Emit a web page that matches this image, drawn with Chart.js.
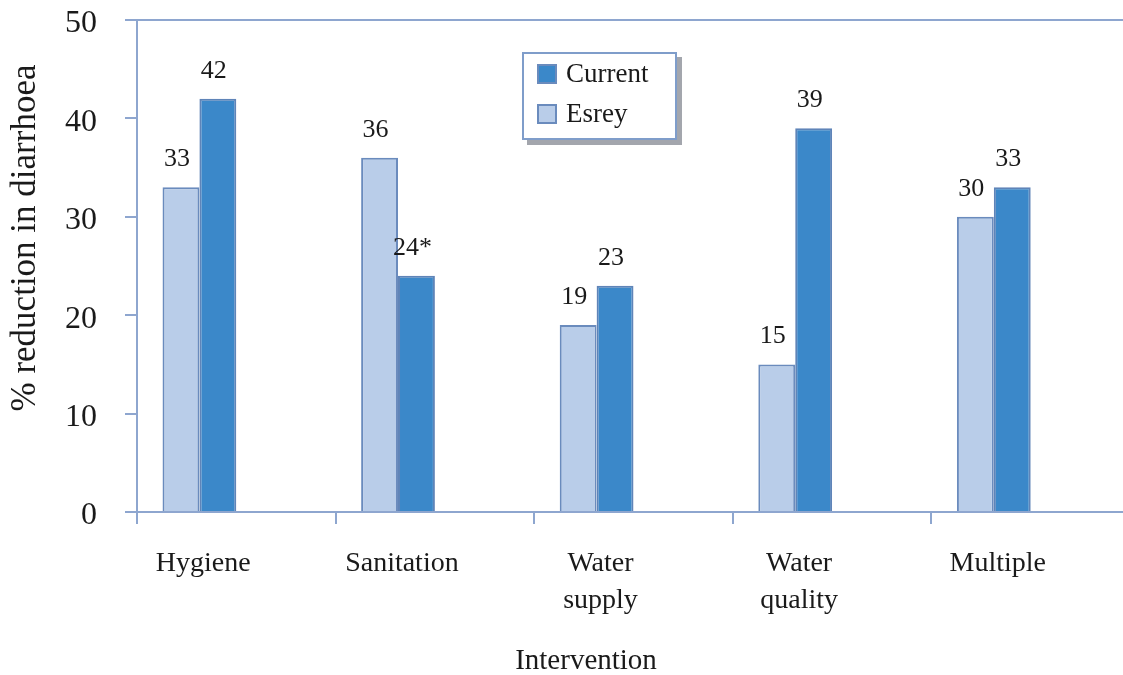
<!DOCTYPE html>
<html>
<head>
<meta charset="utf-8">
<script src="https://cdn.jsdelivr.net/npm/chart.js@4.4.1/dist/chart.umd.min.js"></script>
<style>
  html, body { margin: 0; padding: 0; background: #fff; overflow: hidden; }
  #wrap { position: relative; width: 1135px; height: 675px; }
  #legend {
    position: absolute; left: 522px; top: 52px; width: 151px; height: 84px;
    background: #fff; border: 2px solid #7f9dca; box-shadow: 5px 5px 0 #a3a6ad;
    font: 27px "Liberation Serif", "Times New Roman", serif; color: #1a1a1a;
  }
  #legend .item { position: absolute; left: 13px; height: 30px; line-height: 30px; white-space: nowrap; }
  #legend .box { display: inline-block; width: 20px; height: 20px; border: 2px solid #6a8bbd;
    vertical-align: middle; margin-right: 9px; box-sizing: border-box; position: relative; top: -2px; }
</style>
</head>
<body>
<div id="wrap">
  <canvas id="chart" width="1135" height="675"></canvas>
  <div id="legend"></div>
</div>
<script>
// values
const categories = ["Hygiene", "Sanitation", ["Water", "supply"], ["Water", "quality"], "Multiple"];
const esrey = [33, 36, 19, 15, 30];
const current = [42, 24, 23, 39, 33];
const esreyLabels = ["33", "36", "19", "15", "30"];
const currentLabels = ["42", "24*", "23", "39", "33"];
const yTicks = [0, 10, 20, 30, 40, 50];

const axisColor = "#8ea6cf";
const textColor = "#1a1a1a";
const serif = '"Liberation Serif", "Times New Roman", serif';

// value labels above bars
const barLabels = {
  id: "barLabels",
  afterDatasetsDraw(chart) {
    const ctx = chart.ctx;
    ctx.save();
    ctx.font = "26px " + serif;
    ctx.fillStyle = textColor;
    ctx.textAlign = "center";
    ctx.textBaseline = "alphabetic";
    chart.data.datasets.forEach((ds, i) => {
      if (!ds.valueLabels) return;
      chart.getDatasetMeta(i).data.forEach((bar, j) => {
        ctx.fillText(ds.valueLabels[j], bar.x - 4, bar.y - 21);
      });
    });
    ctx.restore();
  }
};

// axis titles sit off-centre in the original, so they are drawn here
const axisTitles = {
  id: "axisTitles",
  afterDraw(chart) {
    const { ctx, chartArea } = chart;
    ctx.save();
    ctx.fillStyle = textColor;
    ctx.textAlign = "center";
    ctx.textBaseline = "middle";
    ctx.font = "29px " + serif;
    ctx.fillText("Intervention", chartArea.left + 449, chartArea.bottom + 149);
    ctx.translate(26, chartArea.top + 218);
    ctx.rotate(-Math.PI / 2);
    ctx.font = "35px " + serif;
    ctx.fillText("% reduction in diarrhoea", 0, 0);
    ctx.restore();
  }
};

const chart = new Chart(document.getElementById("chart"), {
  type: "bar",
  data: {
    labels: categories,
    datasets: [
      {
        label: "Esrey",
        data: esrey,
        valueLabels: esreyLabels,
        backgroundColor: "#b9cde9",
        borderColor: "#6a8bbd",
        borderWidth: 2,
        borderSkipped: "bottom"
      },
      {
        label: "Current",
        data: current,
        valueLabels: currentLabels,
        backgroundColor: "#3b88c9",
        borderColor: "#5f84b8",
        borderWidth: 2,
        borderSkipped: "bottom"
      },
      // empty slots, the original keeps room for two more series
      { label: "", data: [] },
      { label: "", data: [] }
    ]
  },
  options: {
    responsive: false,
    animation: false,
    layout: { padding: { top: 20, right: 5, left: 0, bottom: 0 } },
    datasets: {
      bar: { categoryPercentage: 0.743, barPercentage: 1 }
    },
    scales: {
      x: {
        afterFit: (s) => { s.height = 163; },
        grid: {
          display: true,
          offset: true,
          drawOnChartArea: false,
          tickColor: axisColor,
          tickLength: 12,
          lineWidth: 2
        },
        border: { display: true, color: axisColor, width: 2 },
        ticks: {
          color: textColor,
          font: { size: 28, family: serif, lineHeight: 1.32 },
          labelOffset: -33,
          padding: 21,
          maxRotation: 0,
          autoSkip: false
        }
      },
      y: {
        min: 0,
        max: 50,
        afterFit: (s) => {
          s.width = 137;
          s.paddingTop = 0;
          s.paddingBottom = 0;
        },
        afterBuildTicks: (s) => { s.ticks = yTicks.map(v => ({ value: v })); },
        grid: {
          color: (c) => (c.tick && c.tick.value === 50 ? axisColor : "transparent"),
          tickColor: axisColor,
          tickLength: 12,
          lineWidth: 2
        },
        border: { display: true, color: axisColor, width: 2 },
        ticks: {
          color: textColor,
          font: { size: 32, family: serif },
          padding: 28,
          labelOffset: 4
        }
      }
    },
    plugins: {
      legend: { display: false },
      tooltip: { enabled: false }
    }
  },
  plugins: [barLabels, axisTitles]
});

// legend box, Current listed first as in the figure
const legendEl = document.getElementById("legend");
[1, 0].forEach((idx, row) => {
  const ds = chart.data.datasets[idx];
  const item = document.createElement("div");
  item.className = "item";
  item.style.top = (4 + row * 40) + "px";
  const box = document.createElement("span");
  box.className = "box";
  box.style.background = ds.backgroundColor;
  item.appendChild(box);
  item.appendChild(document.createTextNode(ds.label));
  legendEl.appendChild(item);
});
</script>
</body>
</html>
